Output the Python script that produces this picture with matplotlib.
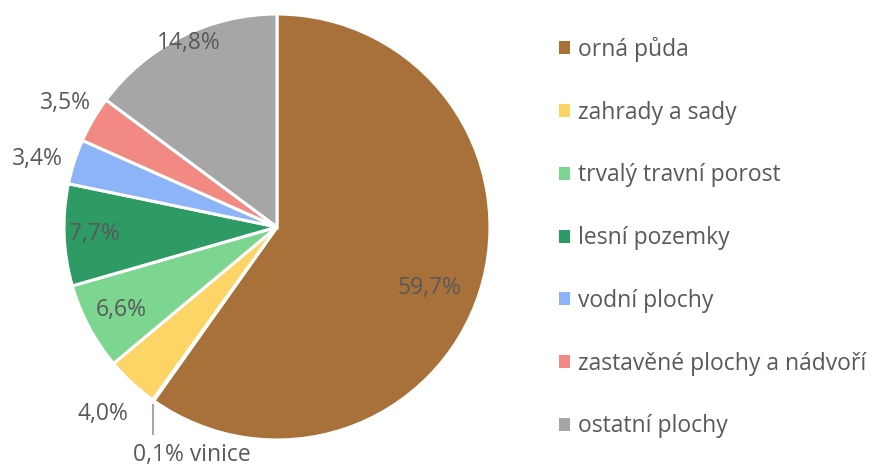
import numpy as np
import matplotlib
matplotlib.use("Agg")
import matplotlib.pyplot as plt
from matplotlib.patches import Patch

plt.rcParams['font.family'] = ['Open Sans', 'DejaVu Sans']

categories = ["orná půda", "vinice", "zahrady a sady", "trvalý travní porost",
              "lesní pozemky", "vodní plochy", "zastavěné plochy a nádvoří",
              "ostatní plochy"]
values = [59.7, 0.1, 4.0, 6.6, 7.7, 3.4, 3.5, 14.8]
labels = ["59,7%", "0,1% vinice", "4,0%", "6,6%", "7,7%", "3,4%", "3,5%", "14,8%"]
colors = ["#A8713A", "#7F6FB0", "#FDD566", "#7DD68F", "#2E9A64", "#8DB4F7",
          "#F28A84", "#A6A6A6"]
legend_cats = [c for c in categories if c != "vinice"]
legend_cols = [col for c, col in zip(categories, colors) if c != "vinice"]

# label placement (styling): radial distance and small angular nudge (deg)
label_r = [0.77, None, 1.2, 0.83, 0.86, 1.17, 1.15, 0.96]
label_da = [-4, 0, 0, 0, 0, 2.0, 0, -1]

fig = plt.figure(figsize=(8.72, 4.68), dpi=100)
ax = fig.add_axes([0.0734, 0.0598, 0.4885, 0.9103])
wedges, _ = ax.pie(values, colors=colors, startangle=90, counterclock=False,
                   radius=1.0,
                   wedgeprops=dict(edgecolor="white", linewidth=2.2))
ax.set_xlim(-1, 1)
ax.set_ylim(-1, 1)
ax.set_aspect('equal')
ax.axis('off')

tc = "#595959"
fs = 16.5
for w, lab, r, da in zip(wedges, labels, label_r, label_da):
    mid = np.deg2rad((w.theta1 + w.theta2) / 2 + da)
    if r is None:
        # leader line for tiny slice
        x0, y0 = np.cos(mid), np.sin(mid)
        ax.plot([x0, x0], [y0 - 0.02, y0 - 0.16], color="#A6A6A6", lw=1.5,
                clip_on=False)
        ax.text(x0 + 0.18, y0 - 0.255, lab, ha="center", va="center",
                fontsize=fs, color=tc, clip_on=False)
    else:
        ax.text(r * np.cos(mid), r * np.sin(mid), lab, ha="center",
                va="center", fontsize=fs, color=tc, clip_on=False)

handles = [Patch(facecolor=c, edgecolor="none") for c in legend_cols]
fig.legend(handles, legend_cats, loc="upper left",
           bbox_to_anchor=(0.617, 0.965), frameon=False, fontsize=fs,
           labelcolor=tc, handlelength=0.5, handleheight=0.5,
           handletextpad=0.35, labelspacing=1.69)

fig.savefig("out.png", dpi=100)
